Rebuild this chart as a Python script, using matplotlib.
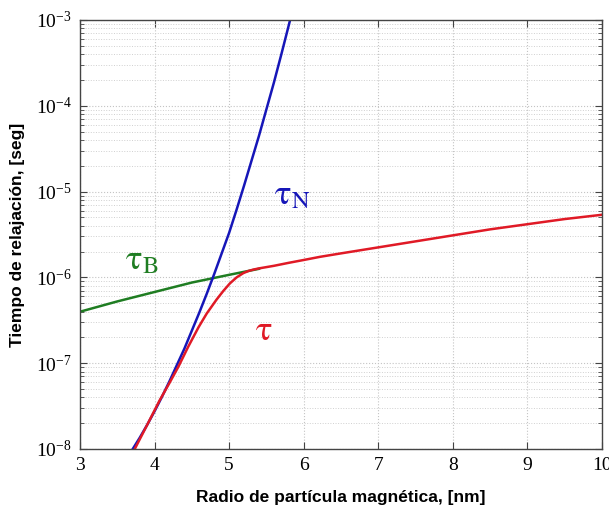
import numpy as np
import matplotlib
matplotlib.use("Agg")
import matplotlib.pyplot as plt
from matplotlib.ticker import LogLocator, LogFormatterMathtext, NullFormatter, FixedLocator

plt.rcParams['mathtext.fontset'] = 'stix'
plt.rcParams['font.family'] = ['Liberation Serif', 'DejaVu Serif']

# Néel relaxation time (blue), log10 of seconds
r_neel = [3.70, 3.80, 3.90, 4.00, 4.10, 4.20, 4.30, 4.40, 4.50, 4.60, 4.70,
          4.80, 4.90, 5.00, 5.10, 5.20, 5.30, 5.40, 5.50, 5.60, 5.70, 5.80, 5.82]
log_neel = [-8.01, -7.87, -7.72, -7.56, -7.39, -7.21, -7.02, -6.83, -6.62, -6.41, -6.19,
            -5.96, -5.72, -5.48, -5.21, -4.93, -4.64, -4.35, -4.04, -3.73, -3.40, -3.06, -2.99]

# Brownian relaxation time (green)
r_brown = [3.00, 3.50, 4.00, 4.50, 5.00, 5.40]
log_brown = [-6.40, -6.28, -6.17, -6.06, -5.97, -5.90]

# Effective relaxation time (red)
r_eff = [3.74, 3.90, 4.07, 4.20, 4.32, 4.45, 4.59, 4.70, 4.83, 4.92, 5.01, 5.10, 5.19,
         5.26, 5.32, 5.40, 5.60, 5.80, 6.00, 6.22, 6.50, 7.00, 7.50, 8.00, 8.50, 9.00, 9.50, 10.00]
log_eff = [-7.99, -7.72, -7.43, -7.23, -7.04, -6.81, -6.58, -6.42, -6.26, -6.16, -6.07, -6.00, -5.95,
           -5.925, -5.91, -5.895, -5.865, -5.83, -5.797, -5.76, -5.72, -5.65, -5.58, -5.51, -5.44, -5.38, -5.32, -5.27]

x_ticks = [3, 4, 5, 6, 7, 8, 9, 10]

fig = plt.figure(figsize=(6.09, 5.13), dpi=100)
ax = fig.add_axes([80/609, 1-449/513, (602-80)/609, (449-20)/513])

blue = '#1616b8'
green = '#1f7d22'
red = '#e01a26'

ax.plot(r_brown, 10.0**np.array(log_brown), color=green, lw=1.8)
ax.plot(r_neel, 10.0**np.array(log_neel), color=blue, lw=1.8)
ax.plot(r_eff, 10.0**np.array(log_eff), color=red, lw=1.8)

ax.set_yscale('log')
ax.set_xlim(3, 10)
ax.set_ylim(1e-8, 1e-3)
ax.xaxis.set_major_locator(FixedLocator(x_ticks))
ax.yaxis.set_major_locator(LogLocator(base=10, numticks=10))
ax.yaxis.set_minor_locator(LogLocator(base=10, subs=np.arange(2, 10), numticks=10))
ax.yaxis.set_major_formatter(LogFormatterMathtext())
ax.yaxis.set_minor_formatter(NullFormatter())

ax.grid(True, which='major', color='#c4c4c4', ls=':', lw=0.8)
ax.grid(True, which='minor', axis='y', color='#d0d0d0', ls=':', lw=0.7)
ax.tick_params(which='both', direction='in', top=True, right=True, color='#444444')
ax.tick_params(which='major', length=5, labelsize=14, pad=6)
ax.tick_params(which='minor', length=3)
for s in ax.spines.values():
    s.set_color('#444444')
    s.set_linewidth(1.0)

ax.set_xlabel('Radio de partícula magnética, [nm]', family=['Liberation Sans', 'DejaVu Sans'],
              fontweight='bold', fontsize=12.5, labelpad=11)
ax.set_ylabel('Tiempo de relajación, [seg]', family=['Liberation Sans', 'DejaVu Sans'],
              fontweight='bold', fontsize=12.5, labelpad=8)

ax.text(5.6, 10**-5.05, r'$\mathrm{τ}_{\mathrm{N}}$', color=blue, fontsize=25, ha='left', va='center')
ax.text(3.6, 10**-5.8, r'$\mathrm{τ}_{\mathrm{B}}$', color=green, fontsize=25, ha='left', va='center')
ax.text(5.35, 10**-6.63, r'$\mathrm{τ}$', color=red, fontsize=25, ha='left', va='center')

fig.savefig('out.png', dpi=100, facecolor='white')
